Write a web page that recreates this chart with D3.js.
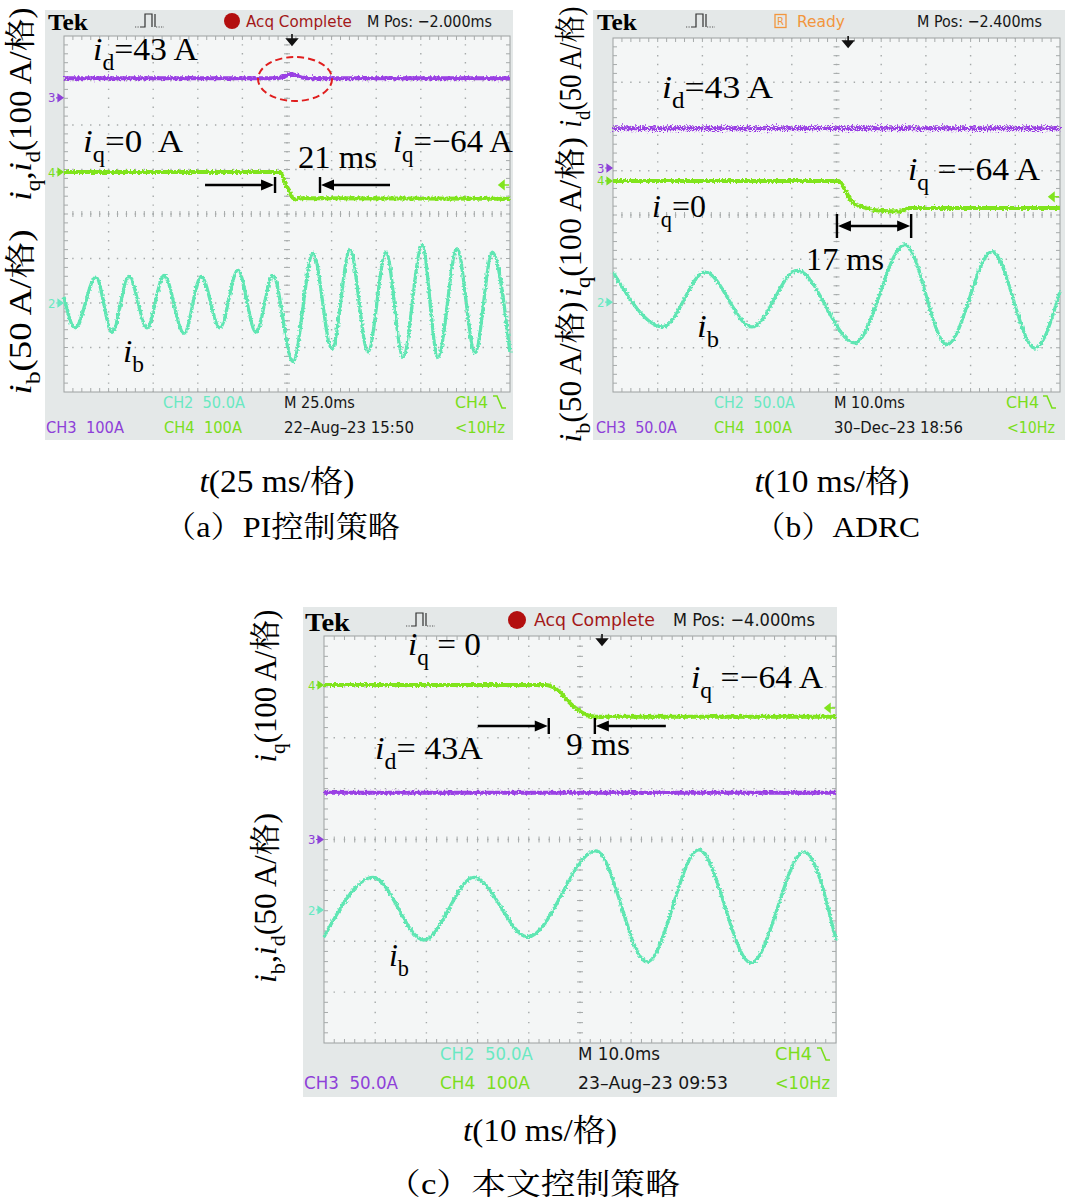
<!DOCTYPE html>
<html><head><meta charset="utf-8">
<script src="https://cdn.jsdelivr.net/npm/d3@7"></script>
<style>body{margin:0;background:#fff}svg{display:block}text{white-space:pre}</style>
</head><body><svg id="c" width="1072" height="1203"></svg>
<script>
// ================= DATA =================
// time in ms, current in A
// (a) PI control, 25 ms/div
const aTime = [0, 250];
const aId = [[0,44],[118,44],[121,45],[124,49],[127,53],[130,51],[133,46],[137,44],[250,44]];
const aIq = [[0,0],[121,0],[124,-25],[127,-50],[129.5,-62],[133,-59],[250,-60]];
const aIb = [[0,7],[6.2,-28],[17.9,29],[26.9,-33],[36.4,30],[46.5,-28],[56.1,31],[67.3,-34],[76.9,30],[87.4,-28],[97.5,37],[107.6,-33],[117.1,31],[128.3,-66],[139.6,56],[150.2,-52],[160.3,60],[170.4,-55],[180.5,57],[190.0,-61],[200.7,65],[209.6,-61],[220.3,61],[230.4,-56],[240.1,57],[250,-56]];
const aInterval = [118.3, 143.5];
// (b) ADRC, 10 ms/div
const bTime = [0, 100];
const bId = [[0,45],[100,45]];
const bIq = [[0,0],[50.3,0],[53.7,-50],[55.9,-59],[60.4,-68],[64.2,-69],[66.4,-61],[100,-61]];
const bIb = [[0,34],[11.2,-28],[20.6,34],[31.1,-28],[41.2,36],[54.1,-46],[65.3,65],[74.7,-48],[84.8,57],[94.4,-52],[100,12]];
const bInterval = [50.1, 66.7];
// (c) proposed control, 10 ms/div
const cTime = [0, 100];
const cId = [[0,46],[100,46]];
const cIq = [[0,0],[43.4,0],[46.1,-14],[48,-35],[50.2,-53],[52.9,-62],[100,-62]];
const cIb = [[0,-26.5],[9.6,32],[19.5,-29.5],[29.3,32],[39.8,-26.5],[53.1,58],[63.1,-51],[73.2,59],[83.4,-52],[93.8,57],[100,-29.5]];
const cInterval = [43.9, 52.9];

// text labels
const aScopeText = ['Tek','Acq Complete','M Pos: \u22122.000ms','CH2  50.0A','M 25.0ms','CH4','CH3  100A','CH4  100A','22\u2013Aug\u201323 15:50','<10Hz'];
const bScopeText = ['Tek','Ready','M Pos: \u22122.400ms','CH2  50.0A','M 10.0ms','CH4','CH3  50.0A','CH4  100A','30\u2013Dec\u201323 18:56','<10Hz'];
const cScopeText = ['Tek','Acq Complete','M Pos: \u22124.000ms','CH2  50.0A','M 10.0ms','CH4','CH3  50.0A','CH4  100A','23\u2013Aug\u201323 09:53','<10Hz'];
const xAxisTitles = ['(25 ms/\u683c)','(10 ms/\u683c)','(10 ms/\u683c)'];
const captions = ['\uff08a\uff09PI\u63a7\u5236\u7b56\u7565','\uff08b\uff09ADRC','\uff08c\uff09\u672c\u6587\u63a7\u5236\u7b56\u7565'];

// ================= STYLE / LAYOUT =================
const SERIF = "'Liberation Serif','Times New Roman',serif";
const CJK = "'Liberation Serif','Noto Serif CJK SC','Noto Sans CJK SC',serif";
const SCOPE = "'DejaVu Sans Condensed','Liberation Sans',sans-serif";
const COL = {ch2:'#5ee6b3', ch3:'#9a3fe4', ch4:'#80e41e', ch2t:'#6ae8c2', ch3t:'#8e40d8', ch4t:'#7ade1c',
  acq:'#a31818', dot:'#b30f0f', ready:'#f2963e', red:'#e01e1e', frame:'#e4e8e8', inner:'#f4f6f6', grid:'#a6aaaa'};

const svg = d3.select('#c');
const defs = svg.append('defs');
function jitter(id, freq, scale, seed){
  const f = defs.append('filter').attr('id',id).attr('filterUnits','userSpaceOnUse')
    .attr('x',0).attr('y',0).attr('width',1072).attr('height',1203);
  f.append('feTurbulence').attr('type','fractalNoise').attr('baseFrequency',freq).attr('numOctaves',2).attr('seed',seed).attr('result','n');
  f.append('feDisplacementMap').attr('in','SourceGraphic').attr('in2','n').attr('scale',scale)
    .attr('xChannelSelector','R').attr('yChannelSelector','G');
}
jitter('jS','0.5 0.5',4,3);
jitter('jM','0.5 0.5',5,7);
jitter('jB','0.8 0.8',10,11);

function rich(parent, parts, o){
  const g = parent.append('g').attr('transform',`translate(${o.x},${o.y}) rotate(${o.rotate||0})`);
  const t = g.append('text').attr('font-family',o.family||SERIF).attr('font-size',o.size)
    .attr('fill',o.fill||'#000').attr('text-anchor',o.anchor||'start')
    .attr('font-weight',o.weight||'normal');
  if (o.dy) t.attr('dy',o.dy);
  let sh = 0;
  parts.forEach(p=>{
    const ts = t.append('tspan').text(p.t);
    const target = p.sub ? o.size*0.3 : 0;
    if (target!==sh){ ts.attr('dy',target-sh); sh=target; }
    if (p.sub) ts.attr('font-size',o.size*0.7);
    if (p.it) ts.attr('font-style','italic');
  });
  if (o.width){
    const w = t.node().getComputedTextLength();
    if (w>0) t.attr('transform',`scale(${o.width/w},1)`);
  }
  return t;
}
const P = s => [{t:s}];

function drawPanel(cfg){
  const g = svg.append('g');
  const [sx,sy,sw,sh] = cfg.screen, [gx,gy,gw,gh] = cfg.grid;
  g.append('rect').attr('x',sx).attr('y',sy).attr('width',sw).attr('height',sh).attr('fill',COL.frame);
  g.append('rect').attr('x',gx).attr('y',gy).attr('width',gw).attr('height',gh).attr('fill',COL.inner)
    .attr('stroke','#9ca0a0').attr('stroke-width',1);
  const x = d3.scaleLinear().domain(cfg.T).range([gx,gx+gw]);
  const y = d3.scaleLinear().domain([-4,4]).range([gy+gh,gy]);
  const dxm = gw/50, dym = gh/40;
  const grid = g.append('g').attr('stroke',COL.grid);
  grid.selectAll('.vl').data(d3.range(1,10)).join('line')
    .attr('x1',i=>gx+i*gw/10).attr('x2',i=>gx+i*gw/10).attr('y1',gy).attr('y2',gy+gh)
    .attr('stroke-width',1.4).attr('stroke-dasharray',`1.4 ${dym-1.4}`).attr('stroke-dashoffset',0.7);
  grid.selectAll('.hl').data(d3.range(1,8)).join('line')
    .attr('y1',i=>gy+i*gh/8).attr('y2',i=>gy+i*gh/8).attr('x1',gx).attr('x2',gx+gw)
    .attr('stroke-width',1.4).attr('stroke-dasharray',`1.4 ${dxm-1.4}`).attr('stroke-dashoffset',0.7);
  const cx = gx+gw/2, cy = gy+gh/2;
  grid.selectAll('.ct').data(d3.range(1,40)).join('line')
    .attr('x1',cx-3).attr('x2',cx+3).attr('y1',i=>gy+i*dym).attr('y2',i=>gy+i*dym).attr('stroke-width',1);
  grid.selectAll('.ch').data(d3.range(1,50)).join('line')
    .attr('y1',cy-3).attr('y2',cy+3).attr('x1',i=>gx+i*dxm).attr('x2',i=>gx+i*dxm).attr('stroke-width',1);
  grid.selectAll('.et').data(d3.range(1,50)).join('path')
    .attr('d',i=>`M${gx+i*dxm},${gy}v4M${gx+i*dxm},${gy+gh}v-4`).attr('stroke-width',1);
  grid.selectAll('.el').data(d3.range(1,40)).join('path')
    .attr('d',i=>`M${gx},${gy+i*dym}h4M${gx+gw},${gy+i*dym}h-4`).attr('stroke-width',1);

  cfg.markers.forEach(m=>{
    const ch = cfg.ch[m.ch], yy = y(ch.off);
    g.append('text').attr('x',gx-16).attr('y',yy).attr('dy','0.35em').attr('font-family',SCOPE)
      .attr('font-size',13).attr('fill',m.color).text(m.label);
    g.append('path').attr('d',`M${gx-8},${yy}h3M${gx-6},${yy-3.5}L${gx-1},${yy}L${gx-6},${yy+3.5}Z`)
      .attr('stroke',m.color).attr('fill',m.color).attr('stroke-width',1.2);
  });
  const tx = x(cfg.trigT);
  g.append('path').attr('d',`M${tx},${gy-2}V${gy+6}M${tx-5},${gy+3}L${tx},${gy+9}L${tx+5},${gy+3}Z`)
    .attr('stroke','#111').attr('fill','#111').attr('stroke-width',1.6);
  const ty = y(cfg.ch.ch4.off + cfg.trigLevel/cfg.ch.ch4.scale), rx = gx+gw;
  g.append('path').attr('d',`M${rx-1},${ty}H${rx-6}M${rx-6},${ty-4}L${rx-11},${ty}L${rx-6},${ty+4}Z`)
    .attr('stroke',COL.ch4).attr('fill',COL.ch4).attr('stroke-width',1.5);

  const trace = (data, ch, color, w, f) => {
    const c = cfg.ch[ch];
    const line = d3.line().x(d=>x(d[0])).y(d=>y(c.off + d[1]/c.scale)).curve(d3.curveMonotoneX);
    g.append('path').datum(data).attr('d',line).attr('fill','none').attr('stroke',color)
      .attr('stroke-width',w).attr('stroke-linejoin','round').attr('filter',`url(#${f})`);
  };
  trace(cfg.data.id,'ch3',COL.ch3,cfg.idW||4,cfg.idFilter);
  trace(cfg.data.iq,'ch4',COL.ch4,4,'jM');
  trace(cfg.data.ib,'ch2',COL.ch2,3.3,'jS');

  const T = cfg.text;
  cfg.scope.forEach(s=>{
    if (s.i===0){
      rich(g,P(T[0]),{x:s.x,y:s.y,dy:'0.35em',size:s.size+8,weight:'bold',family:SERIF,width:s.w});
    } else {
      rich(g,P(T[s.i]),{x:s.x,y:s.y,dy:'0.36em',size:s.size,family:SCOPE,fill:s.c,width:s.w});
    }
  });
  const e = cfg.edge;
  g.append('path').attr('d',`M${e[0]},${e[1]-6}h4l5,12h4`).attr('fill','none').attr('stroke',COL.ch4t).attr('stroke-width',1.6);
  const pz = cfg.pulse;
  g.append('path').attr('d',`M${pz[0]},${pz[1]+6}h5V${pz[1]-7}h7V${pz[1]+6}M${pz[0]+15},${pz[1]-7}V${pz[1]+6}`)
    .attr('fill','none').attr('stroke','#333').attr('stroke-width',1.2);
  g.append('path').attr('d',`M${pz[0]-5},${pz[1]+6}h4M${pz[0]+16},${pz[1]+6}h8`)
    .attr('fill','none').attr('stroke','#555').attr('stroke-width',1.2).attr('stroke-dasharray','1.2 1.3');
  return {g,x,y};
}

function arrowsOut(g, x1, x2, yy, len, bar){
  g.append('path').attr('d',`M${x1-len},${yy}H${x1-12}M${x1},${yy-bar/2}V${yy+bar/2}M${x2},${yy-bar/2}V${yy+bar/2}M${x2+12},${yy}H${x2+len}`)
    .attr('stroke','#000').attr('stroke-width',2.4).attr('fill','none');
  g.append('path').attr('d',`M${x1-1},${yy}L${x1-14},${yy-5.5}L${x1-14},${yy+5.5}ZM${x2+1},${yy}L${x2+14},${yy-5.5}L${x2+14},${yy+5.5}Z`).attr('fill','#000');
}
function arrowsIn(g, x1, x2, yy, bar){
  g.append('path').attr('d',`M${x1+12},${yy}H${x2-12}M${x1},${yy-bar/2}V${yy+bar/2}M${x2},${yy-bar/2}V${yy+bar/2}`)
    .attr('stroke','#000').attr('stroke-width',2.4).attr('fill','none');
  g.append('path').attr('d',`M${x1+1},${yy}L${x1+14},${yy-5.5}L${x1+14},${yy+5.5}ZM${x2-1},${yy}L${x2-14},${yy-5.5}L${x2-14},${yy+5.5}Z`).attr('fill','#000');
}
const I = ()=>({t:'i',it:true}), S=(s)=>({t:s,sub:true}), N=(s)=>({t:s});
const FS = 32;

// ---------------- Panel (a) ----------------
const A = drawPanel({
  screen:[45,10,468,430], grid:[64,36,446,356], T:aTime,
  ch:{ch2:{scale:50,off:-2.0}, ch3:{scale:100,off:2.61}, ch4:{scale:100,off:0.944}},
  data:{id:aId, iq:aIq, ib:aIb}, idFilter:'jM', trigT:127.8, trigLevel:-29,
  markers:[{ch:'ch3',label:'3',color:COL.ch3t},{ch:'ch4',label:'4',color:COL.ch4t},{ch:'ch2',label:'2',color:COL.ch2t}],
  text:aScopeText,
  scope:[{i:0,x:48,y:22,w:40,size:16},{i:1,x:246,y:21,w:106,size:16,c:COL.acq},{i:2,x:367,y:21,w:125,size:16,c:'#161616'},
    {i:3,x:163,y:402,w:82,size:16,c:COL.ch2t},{i:4,x:284,y:402,w:71,size:16,c:'#161616'},{i:5,x:455,y:402,w:33,size:16,c:COL.ch4t},
    {i:6,x:46,y:427,w:78,size:16,c:COL.ch3t},{i:7,x:164,y:427,w:78,size:16,c:COL.ch4t},{i:8,x:284,y:427,w:130,size:16,c:'#161616'},{i:9,x:455,y:427,w:50,size:16,c:COL.ch4t}],
  edge:[493,402], pulse:[140,21]
});
A.g.append('circle').attr('cx',232).attr('cy',21).attr('r',8).attr('fill',COL.dot);
A.g.append('ellipse').attr('cx',A.x(129.5)).attr('cy',79).attr('rx',37).attr('ry',22)
  .attr('fill','none').attr('stroke',COL.red).attr('stroke-width',2).attr('stroke-dasharray','7 4');
rich(A.g,[I(),S('d'),N('=43 A')],{x:93,y:60,size:FS,width:105});
rich(A.g,[I(),S('q'),N('=0  A')],{x:83,y:152,size:FS,width:100});
rich(A.g,[N('21 ms')],{x:298,y:168,size:FS,width:79});
rich(A.g,[I(),S('q'),N('=\u221264 A')],{x:393,y:152,size:FS,width:120});
rich(A.g,[I(),S('b')],{x:123,y:362,size:FS,width:21});
arrowsOut(A.g, A.x(aInterval[0]), A.x(aInterval[1]), 185, 70, 16);

// ---------------- Panel (b) ----------------
const B = drawPanel({
  screen:[593,10,472,430], grid:[613,38,447,354], T:bTime,
  ch:{ch2:{scale:50,off:-1.97}, ch3:{scale:50,off:1.062}, ch4:{scale:100,off:0.77}},
  data:{id:bId, iq:bIq, ib:bIb}, idFilter:'jB', idW:4, trigT:52.6, trigLevel:-36,
  markers:[{ch:'ch3',label:'3',color:COL.ch3t},{ch:'ch4',label:'4',color:COL.ch4t},{ch:'ch2',label:'2',color:COL.ch2t}],
  text:bScopeText,
  scope:[{i:0,x:597,y:22,w:40,size:16},{i:1,x:797,y:21,w:48,size:16,c:COL.ready},{i:2,x:917,y:21,w:125,size:16,c:'#161616'},
    {i:3,x:714,y:402,w:81,size:16,c:COL.ch2t},{i:4,x:834,y:402,w:71,size:16,c:'#161616'},{i:5,x:1006,y:402,w:33,size:16,c:COL.ch4t},
    {i:6,x:596,y:427,w:81,size:16,c:COL.ch3t},{i:7,x:714,y:427,w:78,size:16,c:COL.ch4t},{i:8,x:834,y:427,w:129,size:16,c:'#161616'},{i:9,x:1007,y:427,w:48,size:16,c:COL.ch4t}],
  edge:[1043,402], pulse:[691,21]
});
B.g.append('rect').attr('x',775).attr('y',14.5).attr('width',11).attr('height',13).attr('fill','none').attr('stroke',COL.ready).attr('stroke-width',1.3);
B.g.append('text').attr('x',780.5).attr('y',21).attr('dy','0.36em').attr('text-anchor','middle').attr('font-family',SCOPE).attr('font-size',11).attr('fill',COL.ready).text('R');
rich(B.g,[I(),S('d'),N('=43 A')],{x:662,y:98,size:FS,width:111});
rich(B.g,[I(),S('q'),N(' =\u221264 A')],{x:908,y:180,size:FS,width:132});
rich(B.g,[I(),S('q'),N('=0')],{x:652,y:217,size:FS,width:54});
rich(B.g,[N('17 ms')],{x:806,y:270,size:FS,width:78});
rich(B.g,[I(),S('b')],{x:697,y:337,size:FS,width:22});
arrowsIn(B.g, B.x(bInterval[0]), B.x(bInterval[1]), 226, 24);

// ---------------- Panel (c) ----------------
const C = drawPanel({
  screen:[303,607,534,490], grid:[324,636,512,407], T:cTime,
  ch:{ch2:{scale:50,off:-1.385}, ch3:{scale:50,off:0}, ch4:{scale:100,off:3.035}},
  data:{id:cId, iq:cIq, ib:cIb}, idFilter:'jM', trigT:54.3, trigLevel:-45,
  markers:[{ch:'ch3',label:'3',color:COL.ch3t},{ch:'ch4',label:'4',color:COL.ch4t},{ch:'ch2',label:'2',color:COL.ch2t}],
  text:cScopeText,
  scope:[{i:0,x:305,y:622,w:45,size:18},{i:1,x:534,y:620,w:121,size:18,c:COL.acq},{i:2,x:673,y:620,w:142,size:18,c:'#161616'},
    {i:3,x:440,y:1054,w:93,size:18,c:COL.ch2t},{i:4,x:578,y:1054,w:82,size:18,c:'#161616'},{i:5,x:775,y:1054,w:37,size:18,c:COL.ch4t},
    {i:6,x:304,y:1083,w:94,size:18,c:COL.ch3t},{i:7,x:440,y:1083,w:90,size:18,c:COL.ch4t},{i:8,x:578,y:1083,w:150,size:18,c:'#161616'},{i:9,x:775,y:1083,w:55,size:18,c:COL.ch4t}],
  edge:[817,1054], pulse:[411,620]
});
C.g.append('circle').attr('cx',517).attr('cy',620).attr('r',9).attr('fill',COL.dot);
rich(C.g,[I(),S('q'),N(' = 0')],{x:408,y:655,size:FS,width:73});
rich(C.g,[I(),S('q'),N(' =\u221264 A')],{x:691,y:688,size:FS,width:132});
rich(C.g,[I(),S('d'),N('= 43A')],{x:375,y:759,size:FS,width:108});
rich(C.g,[N('9 ms')],{x:566,y:755,size:FS,width:64});
rich(C.g,[I(),S('b')],{x:389,y:966,size:FS,width:20});
arrowsOut(C.g, C.x(cInterval[0]), C.x(cInterval[1]), 726, 71, 16);

// ---------------- Y-axis titles (rotated) ----------------
const yl = (parts,x,y,w) => rich(svg,parts,{x,y,rotate:-90,anchor:'middle',size:31,family:CJK,width:w});
yl([I(),S('q'),N(','),I(),S('d'),N('(100 A/\u683c)')],31,104,193);
yl([I(),S('b'),N('(50 A/\u683c)')],31,312,165);
yl([I(),S('d'),N('(50 A/\u683c)')],581,67,121);
yl([I(),S('q'),N('(100 A/\u683c)')],581,217,160);
yl([I(),S('b'),N('(50 A/\u683c)')],581,372,141);
yl([I(),S('q'),N('(100 A/\u683c)')],276,686,153);
yl([I(),S('b'),N(','),I(),S('d'),N('(50 A/\u683c)')],276,898,170);

// ---------------- X-axis titles and captions ----------------
const xt = (s,x,y,w) => rich(svg,[{t:'t',it:true},N(s)],{x,y,anchor:'middle',size:31,family:CJK,width:w});
xt(xAxisTitles[0],277,492,155);
xt(xAxisTitles[1],832,492,155);
xt(xAxisTitles[2],540,1141,154);
const cap = (s,x,y,w) => rich(svg,[N(s)],{x,y,anchor:'middle',size:30,family:CJK,width:w});
cap(captions[0],282,537,236);
cap(captions[1],837,537,166);
cap(captions[2],533,1194,294);
</script></body></html>
